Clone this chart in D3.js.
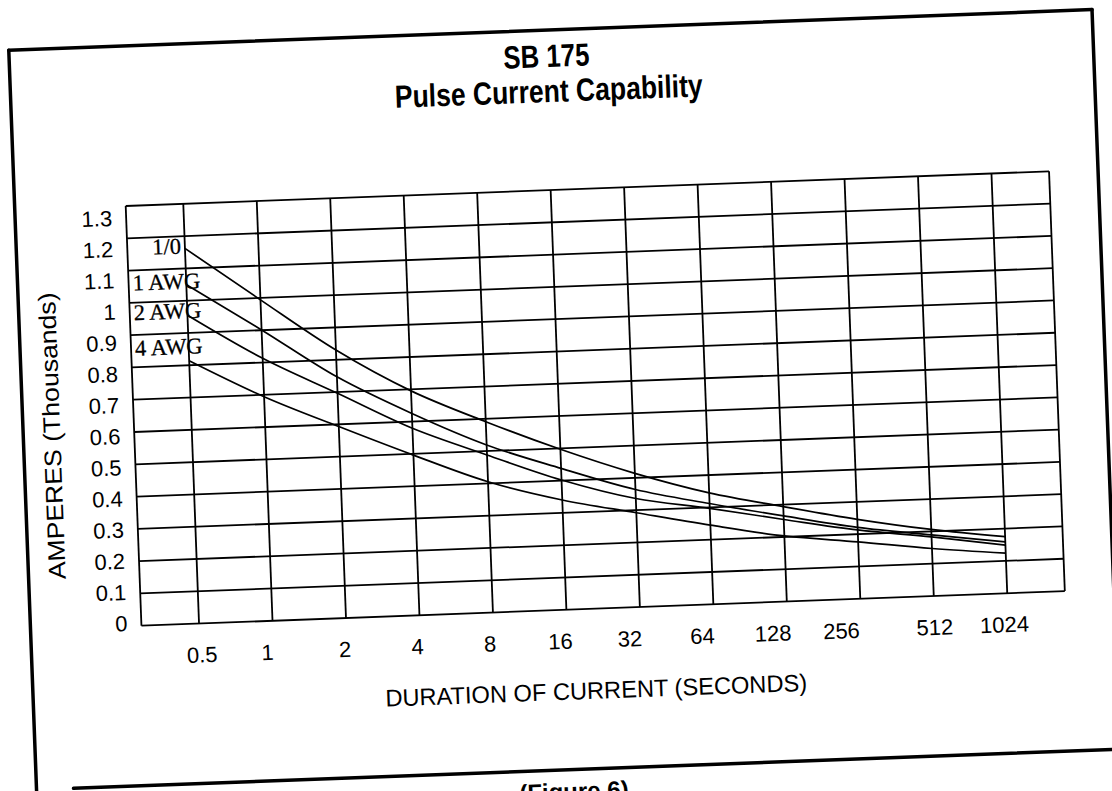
<!DOCTYPE html>
<meta charset="utf-8">
<title>SB 175 Pulse Current Capability</title>
<script src="https://cdn.jsdelivr.net/npm/d3@7"></script>
<style>
  html,body{margin:0;background:#fff}
  svg{display:block}
  .grid line{stroke:#000;stroke-width:1.8}
  .frame line{stroke:#000;stroke-width:3.5;stroke-linecap:round}
  .curve{fill:none;stroke:#000;stroke-width:1.7}
  .tick-y,.tick-x{font-family:"Liberation Sans",Arial,sans-serif;font-size:22px;fill:#000}
  .awg{font-family:"Liberation Serif","Times New Roman",serif;font-size:22.5px;fill:#000;stroke:#000;stroke-width:0.3}
  .title{font-family:"Liberation Sans Narrow","Arial Narrow","Liberation Sans",sans-serif;font-weight:bold;font-size:32px}
  .axis-title{font-family:"Liberation Sans Narrow","Arial Narrow","Liberation Sans",sans-serif;font-size:24px}
</style>
<svg width="1112" height="791"></svg>
<script>
// values
const durations = [0.5, 1, 2, 4, 8, 16, 32, 64, 128, 256, 512, 1024];
const durationLabels = ['0.5','1','2','4','8','16','32','64','128','256','512','1024'];
const ampTicks = [1.3,1.2,1.1,1,0.9,0.8,0.7,0.6,0.5,0.4,0.3,0.2,0.1,0];

const seriesNames = ['1/0', '1 AWG', '2 AWG', '4 AWG'];
const amps_1_0  = [1.162, 0.994, 0.830, 0.695, 0.591, 0.497, 0.414, 0.345, 0.294, 0.246, 0.206, 0.175];
const amps_1awg = [1.050, 0.901, 0.747, 0.625, 0.519, 0.438, 0.364, 0.312, 0.265, 0.221, 0.189, 0.159];
const amps_2awg = [0.955, 0.813, 0.696, 0.579, 0.488, 0.402, 0.336, 0.297, 0.254, 0.213, 0.183, 0.149];
const amps_4awg = [0.814, 0.694, 0.593, 0.496, 0.405, 0.340, 0.292, 0.245, 0.203, 0.176, 0.147, 0.124];
const seriesValues = [amps_1_0, amps_1awg, amps_2awg, amps_4awg];

/* layout */
const W = 924, H = 420;                 // plot box
const pad = 57.6 / 73.5;                // edge cells in log2 units
const labelDy = [5, 4, 3, -7];          // curve label nudges
const tickDx = [2, -6, -2, -3, -4, -7, -11, -12, -15, -20, 0, -4]; // hand-set x labels drift

const svg = d3.select('svg');
// the scan is tilted a bit, so the whole sheet is turned
const g = svg.append('g').attr('transform', 'translate(125.7,206) rotate(-2.15)');

const x = d3.scaleLog().base(2)
  .domain([0.5 / Math.pow(2, pad), 1024 * Math.pow(2, pad)])
  .range([0, W]);
const y = d3.scaleLinear().domain([0, 1.3]).range([H, 0]);
// printed labels drift slightly against the grid on the original
const yLab = d3.scaleLinear().domain([0, 1.3]).range([H - 3, 11.5]);

/* frame (bottom rule starts a little in from the left edge) */
const frame = g.append('g').attr('class', 'frame');
frame.append('line').attr('x1', -111).attr('x2', 973).attr('y1', -160).attr('y2', -160);
frame.append('line').attr('x1', -111).attr('x2', -111).attr('y1', -160).attr('y2', 640);
frame.append('line').attr('x1', 973).attr('x2', 973).attr('y1', -160).attr('y2', 580);
frame.append('line').attr('x1', -74).attr('x2', 1010).attr('y1', 580).attr('y2', 580);

/* grid */
const grid = g.append('g').attr('class', 'grid');
grid.selectAll('line.h').data(ampTicks).join('line').attr('class', 'h')
  .attr('x1', 0).attr('x2', W).attr('y1', d => y(d)).attr('y2', d => y(d));
grid.selectAll('line.v').data(durations).join('line').attr('class', 'v')
  .attr('x1', d => x(d)).attr('x2', d => x(d)).attr('y1', 0).attr('y2', H);
grid.append('line').attr('x1', 0).attr('x2', 0).attr('y1', 0).attr('y2', H);
grid.append('line').attr('x1', W).attr('x2', W).attr('y1', 0).attr('y2', H);

/* tick labels */
g.selectAll('text.tick-y').data(ampTicks).join('text').attr('class', 'tick-y')
  .attr('x', -14).attr('y', d => yLab(d)).attr('dy', '0.36em')
  .attr('text-anchor', 'end')
  .text(d => String(d));

g.selectAll('text.tick-x').data(durations).join('text').attr('class', 'tick-x')
  .attr('x', (d, i) => x(d) + tickDx[i]).attr('y', H + 39)
  .attr('text-anchor', 'middle')
  .text((d, i) => durationLabels[i]);

/* curves */
const line = d3.line()
  .x((d, i) => x(durations[i]))
  .y(d => y(d))
  .curve(d3.curveMonotoneX);

g.selectAll('path.curve').data(seriesValues).join('path').attr('class', 'curve')
  .attr('d', line);

g.selectAll('text.awg').data(seriesNames).join('text').attr('class', 'awg')
  .attr('x', (d, i) => i === 0 ? x(durations[0]) - 4 : 4)
  .attr('y', (d, i) => y(seriesValues[i][0]) + labelDy[i])
  .attr('text-anchor', (d, i) => i === 0 ? 'end' : 'start')
  .text(d => d);

/* titles */
g.append('text').attr('class', 'title').attr('x', 426).attr('y', -123)
  .attr('text-anchor', 'middle')
  .attr('textLength', 86).attr('lengthAdjust', 'spacingAndGlyphs')
  .text('SB 175');
g.append('text').attr('class', 'title').attr('x', 427).attr('y', -88)
  .attr('text-anchor', 'middle')
  .attr('textLength', 308).attr('lengthAdjust', 'spacingAndGlyphs')
  .text('Pulse Current Capability');

g.append('text').attr('class', 'axis-title')
  .attr('transform', 'translate(-74,227) rotate(-90)')
  .attr('text-anchor', 'middle')
  .attr('textLength', 287).attr('lengthAdjust', 'spacingAndGlyphs')
  .text('AMPERES  (Thousands)');

g.append('text').attr('class', 'axis-title').attr('x', 452).attr('y', 510)
  .attr('text-anchor', 'middle')
  .attr('textLength', 422).attr('lengthAdjust', 'spacingAndGlyphs')
  .text('DURATION OF CURRENT (SECONDS)');

g.append('text').attr('class', 'axis-title').attr('x', 426).attr('y', 610)
  .attr('text-anchor', 'middle').attr('font-weight', 'bold')
  .text('(Figure 6)');
</script>
